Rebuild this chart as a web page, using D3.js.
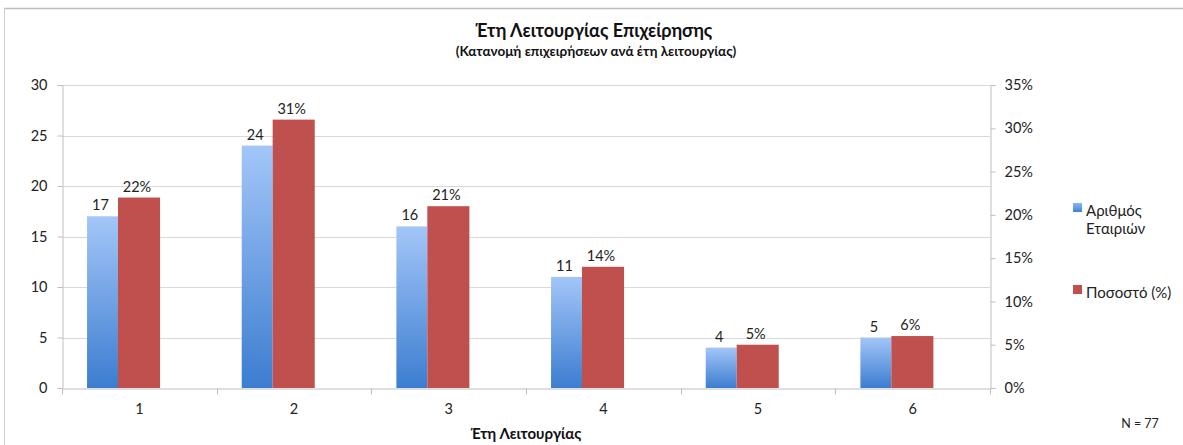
<!DOCTYPE html>
<html>
<head>
<meta charset="utf-8">
<script src="https://cdn.jsdelivr.net/npm/d3@7"></script>
<style>
  html, body { margin: 0; padding: 0; background: #fff; }
  svg { display: block; font-family: Lato, "Open Sans", sans-serif; }
</style>
</head>
<body>
<svg id="chart" width="1183" height="445"></svg>
<script>
// Years in operation and how many firms fall in each group
const categories = ["1", "2", "3", "4", "5", "6"];
const companyCounts = [17, 24, 16, 11, 4, 5];
const sharePercent = [22, 31, 21, 14, 5, 6];
const countTicks = [0, 5, 10, 15, 20, 25, 30];
const percentTicks = [0, 5, 10, 15, 20, 25, 30, 35];
const legendLabels = [["Αριθμός", "Εταιριών"], ["Ποσοστό (%)"]];

const svg = d3.select("#chart");
const W = 1183, H = 445;
const plot = { left: 62, right: 990, top: 85, bottom: 388 };

// Outer frame
svg.append("line").attr("x1", 4).attr("x2", W).attr("y1", 8.5).attr("y2", 8.5)
  .attr("stroke", "#bdbdbd").attr("stroke-width", 1.5);
svg.append("line").attr("x1", 4.5).attr("x2", 4.5).attr("y1", 8).attr("y2", H)
  .attr("stroke", "#d0d0d0").attr("stroke-width", 1);

// Scales
const x = d3.scaleBand().domain(categories).range([plot.left, plot.right]).padding(0);
const yLeft = d3.scaleLinear().domain([0, 30]).range([plot.bottom, plot.top]);
const yRight = d3.scaleLinear().domain([0, 35]).range([plot.bottom, plot.top]);

// Gradient for the count bars
const defs = svg.append("defs");
const grad = defs.append("linearGradient").attr("id", "blueGrad")
  .attr("x1", 0).attr("y1", 0).attr("x2", 0).attr("y2", 1);
grad.append("stop").attr("offset", "0%").attr("stop-color", "#a3c6f8");
grad.append("stop").attr("offset", "100%").attr("stop-color", "#3c7dd0");
const legGrad = defs.append("linearGradient").attr("id", "blueGradLeg")
  .attr("x1", 0).attr("y1", 0).attr("x2", 0).attr("y2", 1);
legGrad.append("stop").attr("offset", "0%").attr("stop-color", "#8ab6f2");
legGrad.append("stop").attr("offset", "100%").attr("stop-color", "#3f80d2");

// Horizontal gridlines
svg.append("g").selectAll("line").data(countTicks.slice(1)).join("line")
  .attr("x1", plot.left).attr("x2", plot.right)
  .attr("y1", d => Math.round(yLeft(d)) + 0.5).attr("y2", d => Math.round(yLeft(d)) + 0.5)
  .attr("stroke", "#d9d9d9");

// Left axis
const leftAxis = svg.append("g").attr("transform", `translate(${plot.left + 0.5},0)`)
  .call(d3.axisLeft(yLeft).tickValues(countTicks).tickSize(5).tickPadding(10));
// Right axis
const rightAxis = svg.append("g").attr("transform", `translate(${plot.right + 0.5},0)`)
  .call(d3.axisRight(yRight).tickValues(percentTicks).tickSize(5).tickPadding(9)
    .tickFormat(d => d + "%"));
// Bottom axis with ticks on category boundaries
const bottomAxis = svg.append("g").attr("transform", `translate(0,${plot.bottom + 0.5})`)
  .call(d3.axisBottom(x).tickSize(0).tickPadding(15));
bottomAxis.selectAll(".bound").data(d3.range(categories.length + 1)).join("line")
  .attr("class", "bound")
  .attr("x1", i => Math.round(plot.left + i * x.bandwidth()) + 0.5)
  .attr("x2", i => Math.round(plot.left + i * x.bandwidth()) + 0.5)
  .attr("y1", 0).attr("y2", 6).attr("stroke", "#bfbfbf");

[leftAxis, rightAxis, bottomAxis].forEach(g => {
  g.select(".domain").attr("stroke", "#bfbfbf");
  g.selectAll(".tick line").attr("stroke", "#bfbfbf");
  g.selectAll(".tick text").attr("fill", "#222").style("font-size", "14.5px")
    .style("font-family", "Lato, 'Open Sans', sans-serif");
});

// Bars
const bw = x.bandwidth();
const blueX = c => x(c) + bw * 0.162;
const blueW = bw * 0.2;
const redX = c => x(c) + bw * 0.362;
const redW = bw * 0.272;

svg.append("g").selectAll("rect").data(categories).join("rect")
  .attr("x", c => blueX(c))
  .attr("width", blueW)
  .attr("y", (c, i) => yLeft(companyCounts[i]))
  .attr("height", (c, i) => plot.bottom - yLeft(companyCounts[i]))
  .attr("fill", "url(#blueGrad)");

svg.append("g").selectAll("rect").data(categories).join("rect")
  .attr("x", c => redX(c))
  .attr("width", redW)
  .attr("y", (c, i) => yRight(sharePercent[i]))
  .attr("height", (c, i) => plot.bottom - yRight(sharePercent[i]))
  .attr("fill", "#c0504d");

// Value labels
svg.append("g").selectAll("text").data(categories).join("text")
  .attr("x", c => blueX(c) + blueW / 2 - 2)
  .attr("y", (c, i) => yLeft(companyCounts[i]) - 6)
  .attr("text-anchor", "middle").attr("fill", "#222").style("font-size", "14.5px")
  .text((c, i) => companyCounts[i]);

svg.append("g").selectAll("text").data(categories).join("text")
  .attr("x", c => redX(c) + redW / 2 - 2)
  .attr("y", (c, i) => yRight(sharePercent[i]) - 6)
  .attr("text-anchor", "middle").attr("fill", "#222").style("font-size", "14.5px")
  .text((c, i) => sharePercent[i] + "%");

// Titles
svg.append("text").attr("x", 594).attr("y", 37).attr("text-anchor", "middle")
  .style("font-size", "18px").style("font-weight", "bold").attr("fill", "#111")
  .text("Έτη Λειτουργίας Επιχείρησης");
svg.append("text").attr("x", 596).attr("y", 56).attr("text-anchor", "middle")
  .style("font-size", "13.5px").style("font-weight", "bold").attr("fill", "#111")
  .text("(Κατανομή επιχειρήσεων ανά έτη λειτουργίας)");
svg.append("text").attr("x", 526).attr("y", 439).attr("text-anchor", "middle")
  .style("font-size", "15px").style("font-weight", "bold").attr("fill", "#111")
  .text("Έτη Λειτουργίας");
svg.append("text").attr("x", 1140).attr("y", 428).attr("text-anchor", "middle")
  .style("font-size", "12.5px").attr("fill", "#222")
  .text("N = 77");

// Legend
const legend = svg.append("g");
const legItems = [
  { fill: "url(#blueGradLeg)", y: 203, lines: legendLabels[0] },
  { fill: "#c0504d", y: 285, lines: legendLabels[1] }
];
legItems.forEach(it => {
  legend.append("rect").attr("x", 1073).attr("y", it.y).attr("width", 9).attr("height", 9)
    .attr("fill", it.fill);
  it.lines.forEach((ln, j) => {
    legend.append("text").attr("x", 1086).attr("y", it.y + 13 + j * 18)
      .style("font-size", "15px").attr("fill", "#222").text(ln);
  });
});
</script>
</body>
</html>
